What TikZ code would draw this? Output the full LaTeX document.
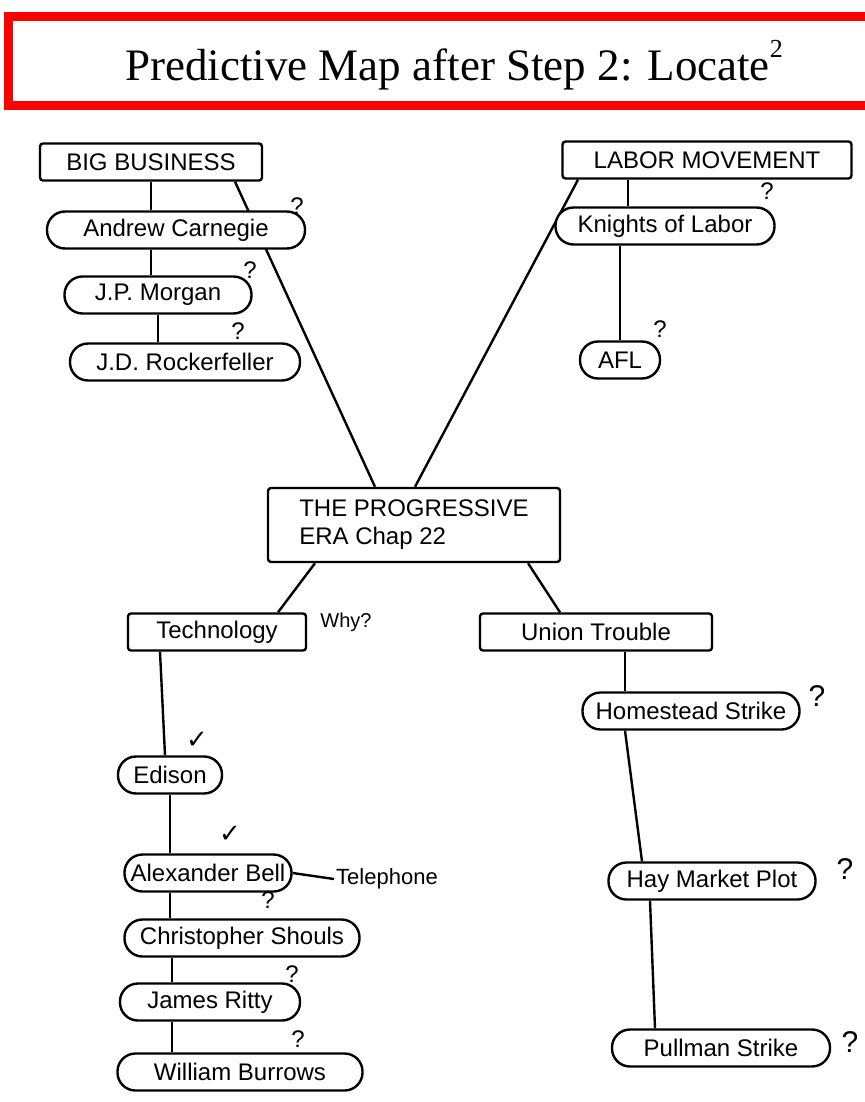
\documentclass[tikz,border=0pt]{standalone}
\usepackage{fontspec}
\setmainfont{Liberation Serif}
\setsansfont{Liberation Sans}
\newfontfamily\symbfont{DejaVu Sans}
\usetikzlibrary{positioning,backgrounds}

\begin{document}
\begin{tikzpicture}[
            x=1pt, y=-1pt,
            title box/.style={rectangle,draw=red,line width=9pt,fill=white,minimum width=892,minimum height=89,text height=41pt,text depth=2pt,font=\fontsize{45}{50}\selectfont},
            topic node/.style={rectangle,draw,line width=2.4pt,rounded corners=3pt,fill=white,minimum height=37,inner sep=3pt,font=\fontsize{24}{28}\sffamily},
            name node/.style={rectangle,draw,line width=2.4pt,rounded corners=18pt,fill=white,minimum height=37,inner sep=3pt,font=\fontsize{24}{28}\sffamily},
            query node/.style={inner sep=0pt,font=\fontsize{24}{28}\sffamily},
            check node/.style={inner sep=0pt,font=\fontsize{26}{30}\symbfont},
            every edge/.style={draw,line width=2.4pt},
        ]
            \useasboundingbox (0,0) rectangle (864,1102);

            \node[title box] (title) at (454,61) {Predictive Map after Step 2: Locate\raisebox{0.5em}{\fontsize{26}{26}\selectfont 2}};

            % big business branch
            \node[topic node, minimum width=222] (big_business) at (151,162) {BIG BUSINESS};
            \node[name node, minimum width=258] (carnegie) at (176,230) {Andrew Carnegie};
            \node[name node, minimum width=187] (morgan) at (158,295) {J.P. Morgan};
            \node[name node, minimum width=230] (rockefeller) at (185,362) {J.D. Rockerfeller};

            % labor branch
            \node[topic node, minimum width=289] (labor) at (707,160) {LABOR MOVEMENT};
            \node[name node, minimum width=219] (knights) at (665,226) {Knights of Labor};
            \node[name node, minimum width=80] (afl) at (620,360) {AFL};

            \node[topic node, minimum width=292, minimum height=74, align=left] (progressive) at (414,525) {THE PROGRESSIVE\\ERA Chap 22};

            \node[topic node, minimum width=178] (technology) at (217,632) {Technology};
            \node[topic node, minimum width=232] (union) at (596,632) {Union Trouble};

            % technology column
            \node[name node, minimum width=104] (edison) at (170,775) {Edison};
            \node[name node, minimum width=167] (bell) at (208,873) {Alexander Bell};
            \node[name node, minimum width=235] (sholes) at (242,938) {Christopher Shouls};
            \node[name node, minimum width=180] (ritty) at (210,1002) {James Ritty};
            \node[name node, minimum width=245] (burroughs) at (240,1072) {William Burrows};
            \node[inner sep=2pt, font=\fontsize{22}{26}\sffamily, anchor=west] (telephone) at (334,879) {Telephone};

            % union column
            \node[name node, minimum width=217] (homestead) at (691,711) {Homestead Strike};
            \node[name node, minimum width=207] (haymarket) at (712,881) {Hay Market Plot};
            \node[name node, minimum width=218] (pullman) at (721,1048) {Pullman Strike};

            % question marks and checks
            \node[query node] (carnegie_q) at (297,206) {?};
            \node[query node] (morgan_q) at (250,270) {?};
            \node[query node] (rockefeller_q) at (238,331) {?};
            \node[query node] (knights_q) at (767,191) {?};
            \node[query node] (afl_q) at (660,329) {?};
            \node[query node, font=\fontsize{20}{24}\sffamily] (why) at (346,622) {Why?};
            \node[query node] (sholes_q) at (268,900) {?};
            \node[query node] (ritty_q) at (292,974) {?};
            \node[query node] (burroughs_q) at (298,1039) {?};
            \node[query node, font=\fontsize{30}{34}\sffamily] (homestead_q) at (817,696) {?};
            \node[query node, font=\fontsize{30}{34}\sffamily] (haymarket_q) at (845,869) {?};
            \node[query node, font=\fontsize{30}{34}\sffamily] (pullman_q) at (850,1042) {?};
            \node[check node] (edison_check) at (197,740) {✓};
            \node[check node] (bell_check) at (230,834) {✓};

            \begin{scope}[on background layer]
            \path (big_business.south) edge (big_business.south |- carnegie.north);
            \path (carnegie.south -| big_business.south) edge (big_business.south |- morgan.north);
            \path (morgan.south) edge (morgan.south |- rockefeller.north);
            \path ([xshift=84]big_business.south) edge ([xshift=-39]progressive.north);

            \path ([xshift=-129]labor.south) edge ([xshift=1]progressive.north);
            \path ([xshift=-79]labor.south) edge ([xshift=-79]labor.south |- knights.north);
            \path (afl.north |- knights.south) edge (afl.north);

            \path ([xshift=-99]progressive.south) edge ([xshift=61]technology.north);
            \path ([xshift=114]progressive.south) edge ([xshift=-36]union.north);

            \path ([xshift=-57]technology.south) edge ([xshift=-5]edison.north);
            \path (edison.south) edge (edison.south |- bell.north);
            \path ([xshift=-38]bell.south) edge ([xshift=-38]bell.south |- sholes.north);
            \path ([xshift=-38]ritty.north |- sholes.south) edge ([xshift=-38]ritty.north);
            \path ([xshift=-38]ritty.south) edge ([xshift=-38]ritty.south |- burroughs.north);
            \path (bell.east) edge (telephone.west);

            \path ([xshift=29]union.south) edge ([xshift=29]union.south |- homestead.north);
            \path ([xshift=-66]homestead.south) edge ([xshift=-70]haymarket.north);
            \path ([xshift=-62]haymarket.south) edge ([xshift=-66]pullman.north);
            \end{scope}
        \end{tikzpicture}
\end{document}
